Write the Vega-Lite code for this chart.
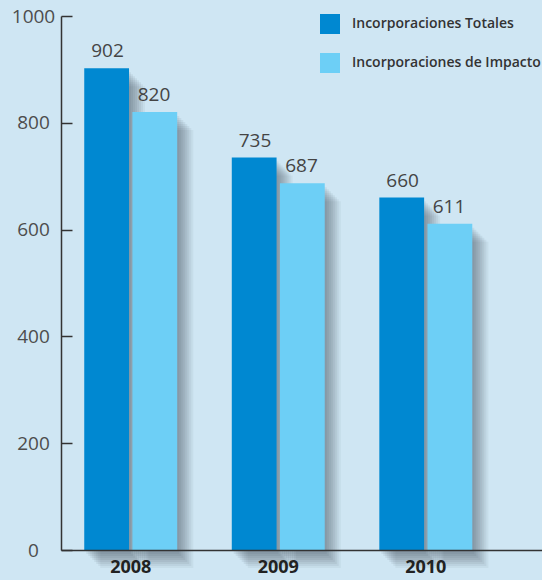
{
  "$schema": "https://vega.github.io/schema/vega-lite/v6.json",
  "width": 481,
  "height": 534,
  "autosize": {"type": "none"},
  "padding": {"left": 61, "top": 16, "right": 0, "bottom": 30},
  "background": "#cfe6f3",
  "config": {
    "view": {"stroke": null},
    "font": "Open Sans"
  },
  "data": {
    "values": [
      {"year": "2008", "serie": "Incorporaciones Totales", "value": 902},
      {"year": "2008", "serie": "Incorporaciones de Impacto", "value": 820},
      {"year": "2009", "serie": "Incorporaciones Totales", "value": 735},
      {"year": "2009", "serie": "Incorporaciones de Impacto", "value": 687},
      {"year": "2010", "serie": "Incorporaciones Totales", "value": 660},
      {"year": "2010", "serie": "Incorporaciones de Impacto", "value": 611}
    ]
  },
  "resolve": {"scale": {"xOffset": "independent"}},
  "encoding": {
    "x": {
      "field": "year", "type": "nominal",
      "scale": {"paddingInner": 0.37, "paddingOuter": 0.315, "align": 0.25},
      "axis": {
        "title": null, "labelAngle": 0, "ticks": false, "labelPadding": 8,
        "labelFontSize": 18, "labelFontWeight": "bold", "labelColor": "#222222",
        "domainColor": "#333333", "domainWidth": 1.5, "zindex": 1
      }
    },
    "y": {
      "field": "value", "type": "quantitative",
      "scale": {"domain": [0, 1000], "nice": false},
      "axis": {
        "title": null, "grid": false, "values": [0, 200, 400, 600, 800, 1000], "format": "d",
        "tickSize": -11, "tickColor": "#333333", "tickWidth": 1.5,
        "labelAlign": "center", "labelPadding": 39, "labelFontSize": 19,
        "labelColor": "#4d4d4d", "domainColor": "#333333", "domainWidth": 1.5, "zindex": 1
      }
    }
  },
  "layer": [
    {
      "mark": {"type": "bar", "color": "#2f3a40", "opacity": 0.07, "yOffset": 4, "y2Offset": 4},
      "encoding": {"xOffset": {"field": "serie", "type": "nominal", "scale": {"domain": ["Incorporaciones Totales", "Incorporaciones de Impacto"], "paddingInner": 0.07, "range": [2, 95]}}}
    },
    {
      "mark": {"type": "bar", "color": "#2f3a40", "opacity": 0.07, "yOffset": 6, "y2Offset": 7},
      "encoding": {"xOffset": {"field": "serie", "type": "nominal", "scale": {"domain": ["Incorporaciones Totales", "Incorporaciones de Impacto"], "paddingInner": 0.07, "range": [4, 97]}}}
    },
    {
      "mark": {"type": "bar", "color": "#2f3a40", "opacity": 0.07, "yOffset": 8, "y2Offset": 10},
      "encoding": {"xOffset": {"field": "serie", "type": "nominal", "scale": {"domain": ["Incorporaciones Totales", "Incorporaciones de Impacto"], "paddingInner": 0.07, "range": [6, 99]}}}
    },
    {
      "mark": {"type": "bar", "color": "#2f3a40", "opacity": 0.07, "yOffset": 10, "y2Offset": 13},
      "encoding": {"xOffset": {"field": "serie", "type": "nominal", "scale": {"domain": ["Incorporaciones Totales", "Incorporaciones de Impacto"], "paddingInner": 0.07, "range": [8, 101]}}}
    },
    {
      "mark": {"type": "bar", "color": "#2f3a40", "opacity": 0.07, "yOffset": 12, "y2Offset": 16},
      "encoding": {"xOffset": {"field": "serie", "type": "nominal", "scale": {"domain": ["Incorporaciones Totales", "Incorporaciones de Impacto"], "paddingInner": 0.07, "range": [10, 103]}}}
    },
    {
      "mark": {"type": "bar", "color": "#2f3a40", "opacity": 0.07, "yOffset": 14, "y2Offset": 19},
      "encoding": {"xOffset": {"field": "serie", "type": "nominal", "scale": {"domain": ["Incorporaciones Totales", "Incorporaciones de Impacto"], "paddingInner": 0.07, "range": [12, 105]}}}
    },
    {
      "mark": {"type": "bar", "color": "#2f3a40", "opacity": 0.06, "yOffset": 16, "y2Offset": 22},
      "encoding": {"xOffset": {"field": "serie", "type": "nominal", "scale": {"domain": ["Incorporaciones Totales", "Incorporaciones de Impacto"], "paddingInner": 0.07, "range": [14, 107]}}}
    },
    {
      "mark": {"type": "bar", "color": "#2f3a40", "opacity": 0.05, "yOffset": 18, "y2Offset": 25},
      "encoding": {"xOffset": {"field": "serie", "type": "nominal", "scale": {"domain": ["Incorporaciones Totales", "Incorporaciones de Impacto"], "paddingInner": 0.07, "range": [16, 109]}}}
    },
    {
      "mark": {"type": "bar"},
      "encoding": {
        "xOffset": {"field": "serie", "type": "nominal", "scale": {"domain": ["Incorporaciones Totales", "Incorporaciones de Impacto"], "paddingInner": 0.07}},
        "color": {
          "field": "serie", "type": "nominal",
          "scale": {"domain": ["Incorporaciones Totales", "Incorporaciones de Impacto"], "range": ["#0088d1", "#6dcff6"]},
          "legend": {
            "title": null, "orient": "none", "legendX": 259, "legendY": -2,
            "symbolType": "square", "symbolSize": 400, "symbolStrokeWidth": 0,
            "rowPadding": 19, "labelOffset": 12, "labelFontSize": 14,
            "labelFontWeight": 600, "labelColor": "#333333", "labelLimit": 300
          }
        }
      }
    },
    {
      "mark": {"type": "text", "dy": -17, "fontSize": 19, "color": "#444444"},
      "encoding": {
        "xOffset": {"field": "serie", "type": "nominal", "scale": {"domain": ["Incorporaciones Totales", "Incorporaciones de Impacto"], "paddingInner": 0.07}},
        "text": {"field": "value", "type": "quantitative"}
      }
    }
  ]
}
